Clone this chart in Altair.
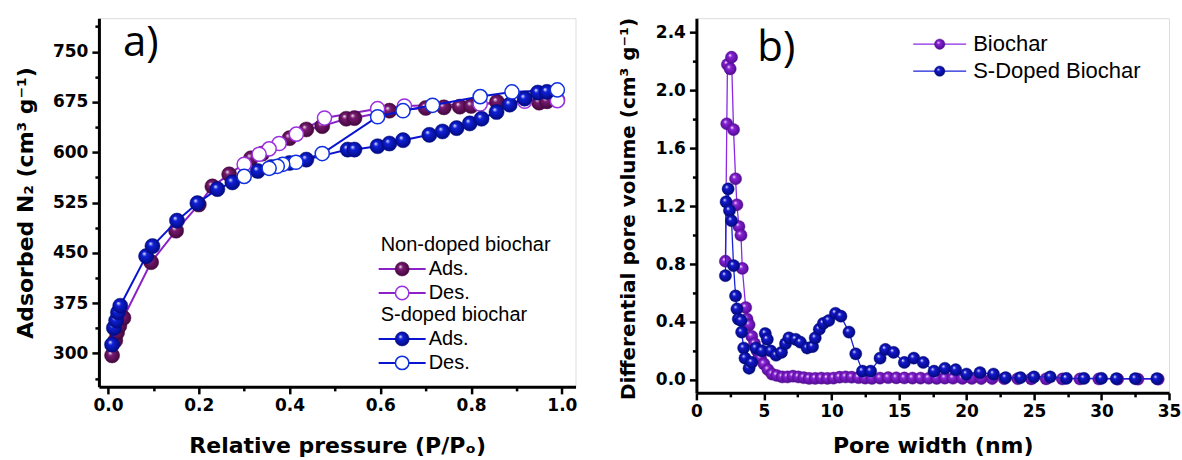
import altair as alt
import pandas as pd

# ---------------- Panel a data: N2 isotherms ----------------
nd_ads_x = [0.009, 0.016, 0.020, 0.025, 0.034, 0.095, 0.150, 0.200, 0.230, 0.267, 0.315, 0.340, 0.400,
            0.437, 0.472, 0.525, 0.543, 0.620, 0.700, 0.740, 0.775, 0.800, 0.857, 0.950, 0.967, 0.990]
nd_ads_y = [297, 319, 331, 341, 353, 436, 483, 522, 549, 567, 591, 598, 621,
            634, 639, 650, 651, 662, 666, 667, 668, 669, 675, 674, 676, 678]
nd_des_x = [0.990, 0.918, 0.820, 0.653, 0.594, 0.477, 0.415, 0.377, 0.355, 0.333, 0.300]
nd_des_y = [677, 676, 672, 669, 665, 651, 627, 613, 605, 597, 582]

sd_ads_x = [0.009, 0.013, 0.018, 0.022, 0.027, 0.084, 0.098, 0.152, 0.197, 0.241, 0.274, 0.330, 0.360,
            0.400, 0.437, 0.528, 0.543, 0.594, 0.620, 0.650, 0.708, 0.737, 0.768, 0.797, 0.823, 0.856,
            0.885, 0.918, 0.947, 0.967]
sd_ads_y = [313, 338, 349, 361, 371, 445, 460, 498, 524, 545, 555, 572, 578,
            584, 589, 604, 604, 609, 613, 618, 626, 631, 636, 643, 650, 660,
            671, 680, 689, 690]
sd_des_x = [0.990, 0.890, 0.820, 0.715, 0.650, 0.594, 0.472, 0.414, 0.385, 0.373, 0.355, 0.300]
sd_des_y = [693, 690, 683, 670, 662, 653, 598, 585, 582, 579, 576, 564]

# ---------------- Panel b data: pore size distribution ----------------
bio_x = [2.15, 2.25, 2.30, 2.50, 2.60, 2.75, 2.90, 3.00, 3.15, 3.30, 3.40, 3.65, 3.75, 3.90, 4.10, 4.30,
         4.50, 4.75, 5.00, 5.30, 5.60, 5.95, 6.35, 6.75, 7.15, 7.55, 7.95, 8.35, 8.80, 9.25, 9.70, 10.15,
         10.60, 11.05, 11.50, 12.00, 12.50, 13.00, 13.60, 14.20, 14.80, 15.40, 16.00, 16.60, 17.20, 17.80,
         18.40, 19.00, 19.70, 20.40, 21.10, 21.90, 22.80, 23.80, 24.80, 25.90, 27.10, 28.40, 29.80, 31.20,
         32.70, 34.20]
bio_y = [0.82, 1.77, 2.18, 2.15, 2.23, 1.73, 1.39, 1.21, 1.06, 1.00, 0.77, 0.50, 0.42, 0.38, 0.30, 0.25,
         0.20, 0.15, 0.11, 0.07, 0.04, 0.03, 0.02, 0.02, 0.025, 0.02, 0.015, 0.01, 0.01, 0.012, 0.01, 0.012,
         0.018, 0.02, 0.018, 0.015, 0.012, 0.01, 0.012, 0.015, 0.014, 0.013, 0.012, 0.012, 0.011, 0.01,
         0.012, 0.011, 0.01, 0.01, 0.009, 0.009, 0.008, 0.008, 0.007, 0.007, 0.006, 0.006, 0.006, 0.005,
         0.005, 0.005]
sdb_x = [2.15, 2.20, 2.35, 2.45, 2.60, 2.75, 2.90, 3.00, 3.10, 3.30, 3.35, 3.50, 3.60, 3.90, 4.10, 4.40,
         4.85, 5.10, 5.25, 5.50, 5.90, 6.30, 6.60, 6.85, 7.35, 7.70, 8.20, 8.60, 8.80, 9.10, 9.40, 9.80,
         10.30, 10.70, 11.30, 11.80, 12.30, 12.90, 13.60, 14.00, 14.60, 15.40, 16.10, 16.80, 17.60, 18.40,
         19.20, 20.00, 21.00, 22.00, 22.90, 24.00, 25.00, 26.20, 27.40, 28.70, 30.00, 31.10, 32.50, 34.10]
sdb_y = [0.72, 1.23, 1.32, 1.17, 1.10, 0.79, 0.58, 0.49, 0.42, 0.41, 0.33, 0.22, 0.15, 0.08, 0.12, 0.22,
         0.20, 0.32, 0.28, 0.20, 0.17, 0.19, 0.25, 0.29, 0.28, 0.26, 0.22, 0.23, 0.29, 0.35, 0.39, 0.41,
         0.46, 0.44, 0.33, 0.18, 0.06, 0.06, 0.15, 0.21, 0.19, 0.12, 0.15, 0.12, 0.06, 0.08,
         0.07, 0.04, 0.05, 0.04, 0.015, 0.015, 0.02, 0.02, 0.01, 0.01, 0.01, 0.008, 0.008, 0.008]

legend_a_groups = ["Non-doped biochar", "S-doped biochar"]
legend_a_items = ["Ads.", "Des."]
legend_b_items = ["Biochar", "S-Doped Biochar"]
panel_labels = ["a)", "b)"]

# ---------------- Styling ----------------
PURPLE_LINE = "#8a22c8"
PURPLE = "#8a2be2"
BLUE = "#0a14d0"
TICK_FONT = "DejaVu Sans"
TITLE_FONT = "DejaVu Sans"
LEG_FONT = "Liberation Sans"


def ball(main, dark):
    return {"gradient": "radial", "x1": 0.36, "y1": 0.32, "r1": 0.0,
            "x2": 0.5, "y2": 0.5, "r2": 0.55,
            "stops": [{"offset": 0.0, "color": "#ffffff"},
                      {"offset": 0.28, "color": main},
                      {"offset": 1.0, "color": dark}]}


def axis(values, test, fmt, title, orient, title_size, title_x=None, title_y=None):
    kw = dict(values=values, title=title,
              labelExpr=f"({test}) ? format(datum.value, '{fmt}') : ''",
              tickSize={"condition": {"test": test, "value": 7}, "value": 4},
              tickWidth=2.5, tickColor="black", domainColor="black", domainWidth=3,
              labelFont=TICK_FONT, labelFontWeight="bold", labelFontSize=17, labelColor="black",
              titleFont=TITLE_FONT, titleFontWeight="bold", titleFontSize=title_size, titleColor="black",
              grid=False, labelPadding=4, labelFlush=False, labelOverlap=False,
              titleBaseline="alphabetic")
    if title_x is not None:
        kw["titleX"] = title_x
    if title_y is not None:
        kw["titleY"] = title_y
    if orient == "left":
        kw["titleAngle"] = 270
    return alt.Axis(**kw)


# ---------------- Panel a ----------------
WA, HA = 477, 369
xs_a = alt.Scale(domain=[-0.02, 1.03], nice=False, zero=False)
ys_a = alt.Scale(domain=[250, 800], nice=False, zero=False)
ax_xa = axis([round(i * 0.1, 1) for i in range(11)], "abs(round(datum.value*10)) % 2 == 0", ".1f",
             "Relative pressure (P/Pₒ)", "bottom", 22, title_y=66)
ax_ya = axis([262.5 + 37.5 * i for i in range(15)], "datum.value % 75 == 0", "d",
             "Adsorbed N₂ (cm³ g⁻¹)", "left", 22, title_x=-66, title_y=HA / 2)


def df(xs, ys):
    return pd.DataFrame({"x": xs, "y": ys, "i": list(range(len(xs)))})


def enc_a():
    return dict(x=alt.X("x:Q", scale=xs_a, axis=ax_xa), y=alt.Y("y:Q", scale=ys_a, axis=ax_ya),
                order="i:Q")


def line(d, color, w, enc):
    return alt.Chart(d).mark_line(color=color, strokeWidth=w).encode(**enc)


def pts(d, fill, stroke, size, sw, enc):
    return alt.Chart(d).mark_point(filled=True, shape="circle", fill=fill, stroke=stroke,
                                   strokeWidth=sw, size=size, opacity=1).encode(**enc)


nd_a, nd_d = df(nd_ads_x, nd_ads_y), df(nd_des_x, nd_des_y)
sd_a, sd_d = df(sd_ads_x, sd_ads_y), df(sd_des_x, sd_des_y)

nd_ball = ball("#7a1a72", "#3c0636")
sd_ball = ball("#1020d8", "#00087a")

layers_a = [
    line(nd_a, PURPLE_LINE, 2, enc_a()),
    line(nd_d, PURPLE_LINE, 2, enc_a()),
    pts(nd_a, nd_ball, "#4a0a44", 230, 0.5, enc_a()),
    pts(nd_d, "white", "#9a30e0", 200, 1.5, enc_a()),
    line(sd_a, BLUE, 2, enc_a()),
    line(sd_d, BLUE, 2, enc_a()),
    pts(sd_a, sd_ball, "#000a80", 230, 0.5, enc_a()),
    pts(sd_d, "white", "#1030e0", 200, 1.5, enc_a()),
]

one = pd.DataFrame({"k": [0]})


def txt(t, x, y, size, font, weight="normal", align="left", baseline="alphabetic"):
    return alt.Chart(pd.DataFrame({"t": [t]})).mark_text(
        font=font, fontSize=size, fontWeight=weight, align=align, baseline=baseline, color="black"
    ).encode(x=alt.value(x), y=alt.value(y), text="t:N")


def leg_item(x0, x1, y, color, fill, stroke, size, sw, lw):
    seg = alt.Chart(one).mark_rule(color=color, strokeWidth=lw).encode(
        x=alt.value(x0), x2=alt.value(x1), y=alt.value(y))
    dot = alt.Chart(one).mark_point(filled=True, shape="circle", fill=fill, stroke=stroke,
                                    strokeWidth=sw, size=size, opacity=1).encode(
        x=alt.value((x0 + x1) / 2), y=alt.value(y))
    return [seg, dot]


# legend a
layers_a.append(txt(legend_a_groups[0], 282, 233, 20, LEG_FONT))
layers_a += leg_item(280, 327, 251, PURPLE_LINE, nd_ball, "#4a0a44", 200, 0.5, 2)
layers_a.append(txt(legend_a_items[0], 330, 251, 20, LEG_FONT, baseline="middle"))
layers_a += leg_item(280, 327, 275, PURPLE_LINE, "white", "#9a30e0", 180, 1.5, 2)
layers_a.append(txt(legend_a_items[1], 330, 275, 20, LEG_FONT, baseline="middle"))
layers_a.append(txt(legend_a_groups[1], 282, 303, 20, LEG_FONT))
layers_a += leg_item(280, 327, 321, BLUE, sd_ball, "#000a80", 200, 0.5, 2)
layers_a.append(txt(legend_a_items[0], 330, 321, 20, LEG_FONT, baseline="middle"))
layers_a += leg_item(280, 327, 345, BLUE, "white", "#1030e0", 180, 1.5, 2)
layers_a.append(txt(legend_a_items[1], 330, 345, 20, LEG_FONT, baseline="middle"))
layers_a.append(txt(panel_labels[0], 24, 38, 42, "Open Sans"))

panel_a = alt.layer(*layers_a).properties(width=WA, height=HA)

# ---------------- Panel b ----------------
WB, HB = 473, 375
xs_b = alt.Scale(domain=[0, 35], nice=False, zero=False)
ys_b = alt.Scale(domain=[-0.09, 2.5], nice=False, zero=False)
ax_xb = axis([2.5 * i for i in range(15)], "datum.value % 5 == 0", "d",
             "Pore width (nm)", "bottom", 22, title_y=60)
ax_yb = axis([round(0.2 * i, 1) for i in range(13)], "round(datum.value*10) % 4 == 0", ".1f",
             "Differential pore volume (cm³ g⁻¹)", "left", 20, title_x=-62, title_y=HB / 2 + 3)


def enc_b():
    return dict(x=alt.X("x:Q", scale=xs_b, axis=ax_xb), y=alt.Y("y:Q", scale=ys_b, axis=ax_yb),
                order="i:Q")


bio = df(bio_x, bio_y)
sdb = df(sdb_x, sdb_y)
bio_ball = ball("#8a22d8", "#4a0a8a")
sdb_ball = ball("#1418d0", "#000870")

layers_b = [
    line(bio, PURPLE, 1.3, enc_b()),
    pts(bio, bio_ball, "#5a109a", 150, 0.4, enc_b()),
    line(sdb, "#1a22d8", 1.3, enc_b()),
    pts(sdb, sdb_ball, "#000a80", 150, 0.4, enc_b()),
]
layers_b += leg_item(217, 270, 26, PURPLE, bio_ball, "#5a109a", 110, 0.4, 1.3)
layers_b.append(txt(legend_b_items[0], 277, 26, 22, LEG_FONT, baseline="middle"))
layers_b += leg_item(217, 270, 53, "#1a22d8", sdb_ball, "#000a80", 110, 0.4, 1.3)
layers_b.append(txt(legend_b_items[1], 277, 53, 22, LEG_FONT, baseline="middle"))
layers_b.append(txt(panel_labels[1], 61, 43, 42, "Open Sans"))

panel_b = alt.layer(*layers_b).properties(width=WB, height=HB)

chart = alt.hconcat(panel_a, panel_b, spacing=121, bounds="flush").properties(
    padding={"left": 14, "top": 16, "right": 0, "bottom": 0}
).configure_view(stroke="black", strokeWidth=3).configure(background="white")

chart.save("out.html", embed_options={"renderer": "svg", "actions": False})
